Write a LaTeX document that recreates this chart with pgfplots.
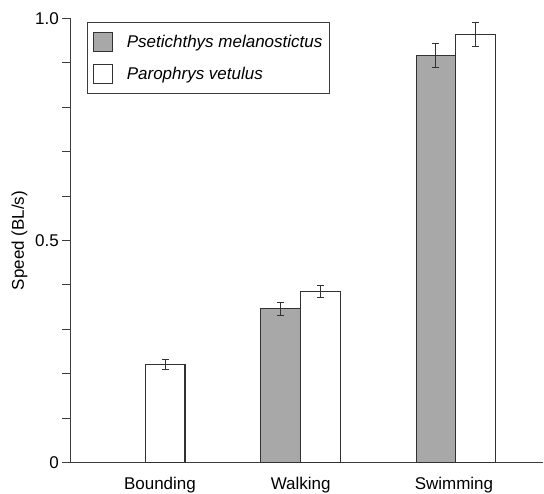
\documentclass[border=0pt]{standalone}
\usepackage{pgfplots}
\pgfplotsset{compat=1.18}
\usepackage{fontspec}
\setmainfont{Liberation Sans}
\definecolor{barfill}{RGB}{168,168,168}
\definecolor{edge}{RGB}{50,50,50}
\definecolor{axisc}{RGB}{60,60,60}
\newcommand{\fs}{\fontsize{17}{20}\selectfont}
\begin{document}
\begin{tikzpicture}
\begin{axis}[
  scale only axis, width=472.7pt, height=444.4pt,
  xmin=-0.484, xmax=2.563, ymin=0, ymax=1,
  axis x line=bottom, axis y line=left,
  axis line style={-, draw=axisc, line width=1pt},
  ybar=0pt, bar width=39.6pt,
  xtick={0.094,1.001,1.989}, xticklabels={Bounding,Walking,Swimming},
  xtick style={draw=none},
  ytick={0,0.1,0.2,0.3,0.4,0.5,0.6,0.7,0.8,0.9,1.0},
  yticklabels={0,{},{},{},{},0.5,{},{},{},{},1.0},
  tick align=outside, major tick length=8pt,
  ytick style={draw=axisc, line width=1.1pt},
  /pgf/number format/assume math mode=true,
  tick label style={font=\fs},
  xticklabel style={anchor=base, yshift=-19.3pt},
  ylabel={Speed (BL/s)},
  ylabel style={font=\fs, at={(axis description cs:-0.0984,0.5)}, anchor=base},
  legend style={at={(axis description cs:0.036,0.991)}, anchor=north west,
    draw=axisc, line width=1pt, font=\fs\itshape, cells={anchor=west},
    inner xsep=5pt, inner ysep=9.5pt, row sep=11.3pt, column sep=12pt},
  legend image code/.code={\draw[#1, line width=1pt] (0pt,-9.5pt) rectangle (19pt,9.5pt);},
]
\addplot[fill=barfill, draw=edge, line width=1.1pt,
  error bars/.cd, y dir=both, y explicit,
  error bar style={draw=edge, line width=1pt},
  error mark options={rotate=90, mark size=3.5pt, draw=edge, line width=1pt}]
  coordinates {(1,0.346) +- (0,0.014) (2,0.917) +- (0,0.027)};
\addlegendentry{Psetichthys melanostictus\hspace{22pt}}
\addplot[fill=white, draw=edge, line width=1.1pt,
  error bars/.cd, y dir=both, y explicit,
  error bar style={draw=edge, line width=1pt},
  error mark options={rotate=90, mark size=3.5pt, draw=edge, line width=1pt}]
  coordinates {(0,0.221) +- (0,0.012) (1,0.385) +- (0,0.0135) (2,0.963) +- (0,0.027)};
\addlegendentry{Parophrys vetulus}
\end{axis}
\pgfresetboundingbox
\path[use as bounding box] ([shift={(-70.3pt,-31.3pt)}]current axis.south west) rectangle ([shift={(1.0pt,18.3pt)}]current axis.north east);
\end{tikzpicture}
\end{document}
